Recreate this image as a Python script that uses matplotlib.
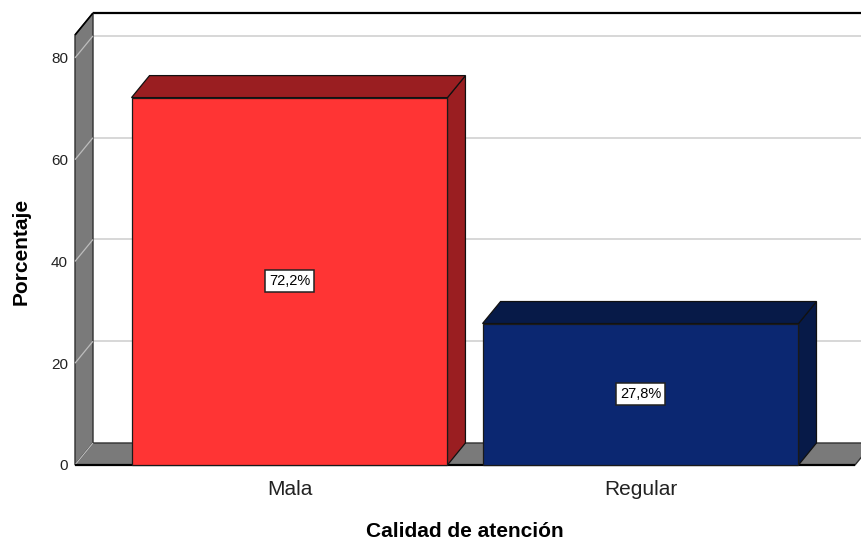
import matplotlib
matplotlib.use("Agg")
import matplotlib.pyplot as plt
from matplotlib.patches import Polygon
import numpy as np

# Data
categories = ["Mala", "Regular"]
percentages = [72.2, 27.8]
value_labels = ["72,2%", "27,8%"]
y_ticks = [0, 20, 40, 60, 80]

# Styles
front_colors = ["#FF3434", "#0B2771"]
shade_colors = ["#9A1E21", "#071A48"]
wall_color = "#7A7A7A"
grid_color = "#D4D4D4"
bar_width = 0.9
depth_px = np.array([18.0, 22.0])

plt.rcParams["font.family"] = ["Liberation Sans", "DejaVu Sans"]

fig = plt.figure(figsize=(8.62, 5.41), dpi=100)
ax = fig.add_axes([75 / 862, 76 / 541, 780 / 862, 430 / 541])
xmin, xmax = -0.611, 1.611
ymin, ymax = 0, 84.5
ax.set_xlim(xmin, xmax)
ax.set_ylim(ymin, ymax)
ax.patch.set_visible(False)
for s in ax.spines.values():
    s.set_visible(False)


def back(x, y):
    """Project a front-plane point onto the back plane of the 3D box."""
    d = ax.transData.transform((x, y)) + depth_px
    return tuple(ax.transData.inverted().transform(d))


def poly(pts, fc, ec, lw, z):
    ax.add_patch(Polygon(pts, closed=True, facecolor=fc, edgecolor=ec,
                         linewidth=lw, zorder=z, clip_on=False,
                         joinstyle="miter"))


def seg(p, q, color, lw, z):
    ax.plot([p[0], q[0]], [p[1], q[1]], color=color, lw=lw, zorder=z,
            clip_on=False, solid_capstyle="butt")


# Back wall
poly([back(xmin, ymin), back(xmax + 0.2, ymin), back(xmax + 0.2, ymax),
      back(xmin, ymax)], "white", "none", 0, 0)
for v in y_ticks[1:]:
    seg(back(xmin, v), back(xmax + 0.2, v), grid_color, 1.3, 1)
seg(back(xmin, ymax), back(xmax + 0.2, ymax), "black", 1.6, 1)

# Left wall
poly([(xmin, ymin), (xmin, ymax), back(xmin, ymax), back(xmin, ymin)],
     wall_color, "#303030", 1.0, 2)
for v in y_ticks:
    seg((xmin, v), back(xmin, v), "#BDBDBD", 0.9, 2.1)
seg((xmin, ymax), back(xmin, ymax), "black", 1.2, 2.2)

# Floor
poly([(xmin, ymin), (xmax, ymin), back(xmax, ymin), back(xmin, ymin)],
     wall_color, "#303030", 1.0, 2)
seg((xmin, ymin), (xmax, ymin), "black", 1.6, 2.2)

# Bars: side and top faces, then front faces
positions = np.arange(len(categories))
for i, v in enumerate(percentages):
    x0 = positions[i] - bar_width / 2
    x1 = positions[i] + bar_width / 2
    poly([(x1, 0), (x1, v), back(x1, v), back(x1, 0)],
         shade_colors[i], "#111111", 0.9, 3)
    poly([(x0, v), (x1, v), back(x1, v), back(x0, v)],
         shade_colors[i], "#111111", 0.9, 3)

ax.bar(positions, percentages, width=bar_width, color=front_colors,
       edgecolor="#1A1A1A", linewidth=0.9, zorder=4, clip_on=False)

for i, v in enumerate(percentages):
    ax.text(positions[i], v / 2, value_labels[i], ha="center", va="center",
            fontsize=10.5, color="black", zorder=6,
            bbox=dict(boxstyle="square,pad=0.27", facecolor="white",
                      edgecolor="#222222", linewidth=1.1))

# Axes ticks and labels
ax.set_yticks(y_ticks)
ax.set_yticklabels([str(t) for t in y_ticks])
ax.set_xticks(positions)
ax.set_xticklabels(categories)
ax.tick_params(axis="y", length=0, pad=5, labelsize=11, colors="#222222")
ax.tick_params(axis="x", length=0, pad=11, labelsize=15, colors="#222222")

fig.text(21 / 862, 1 - 251 / 541, "Porcentaje", rotation=90, ha="center",
         va="center", fontsize=15, fontweight="bold", color="black")
fig.text(465 / 862, 1 - 537 / 541, "Calidad de atención", ha="center",
         va="baseline", fontsize=15, fontweight="bold", color="black")

fig.savefig("out.png", dpi=100)
